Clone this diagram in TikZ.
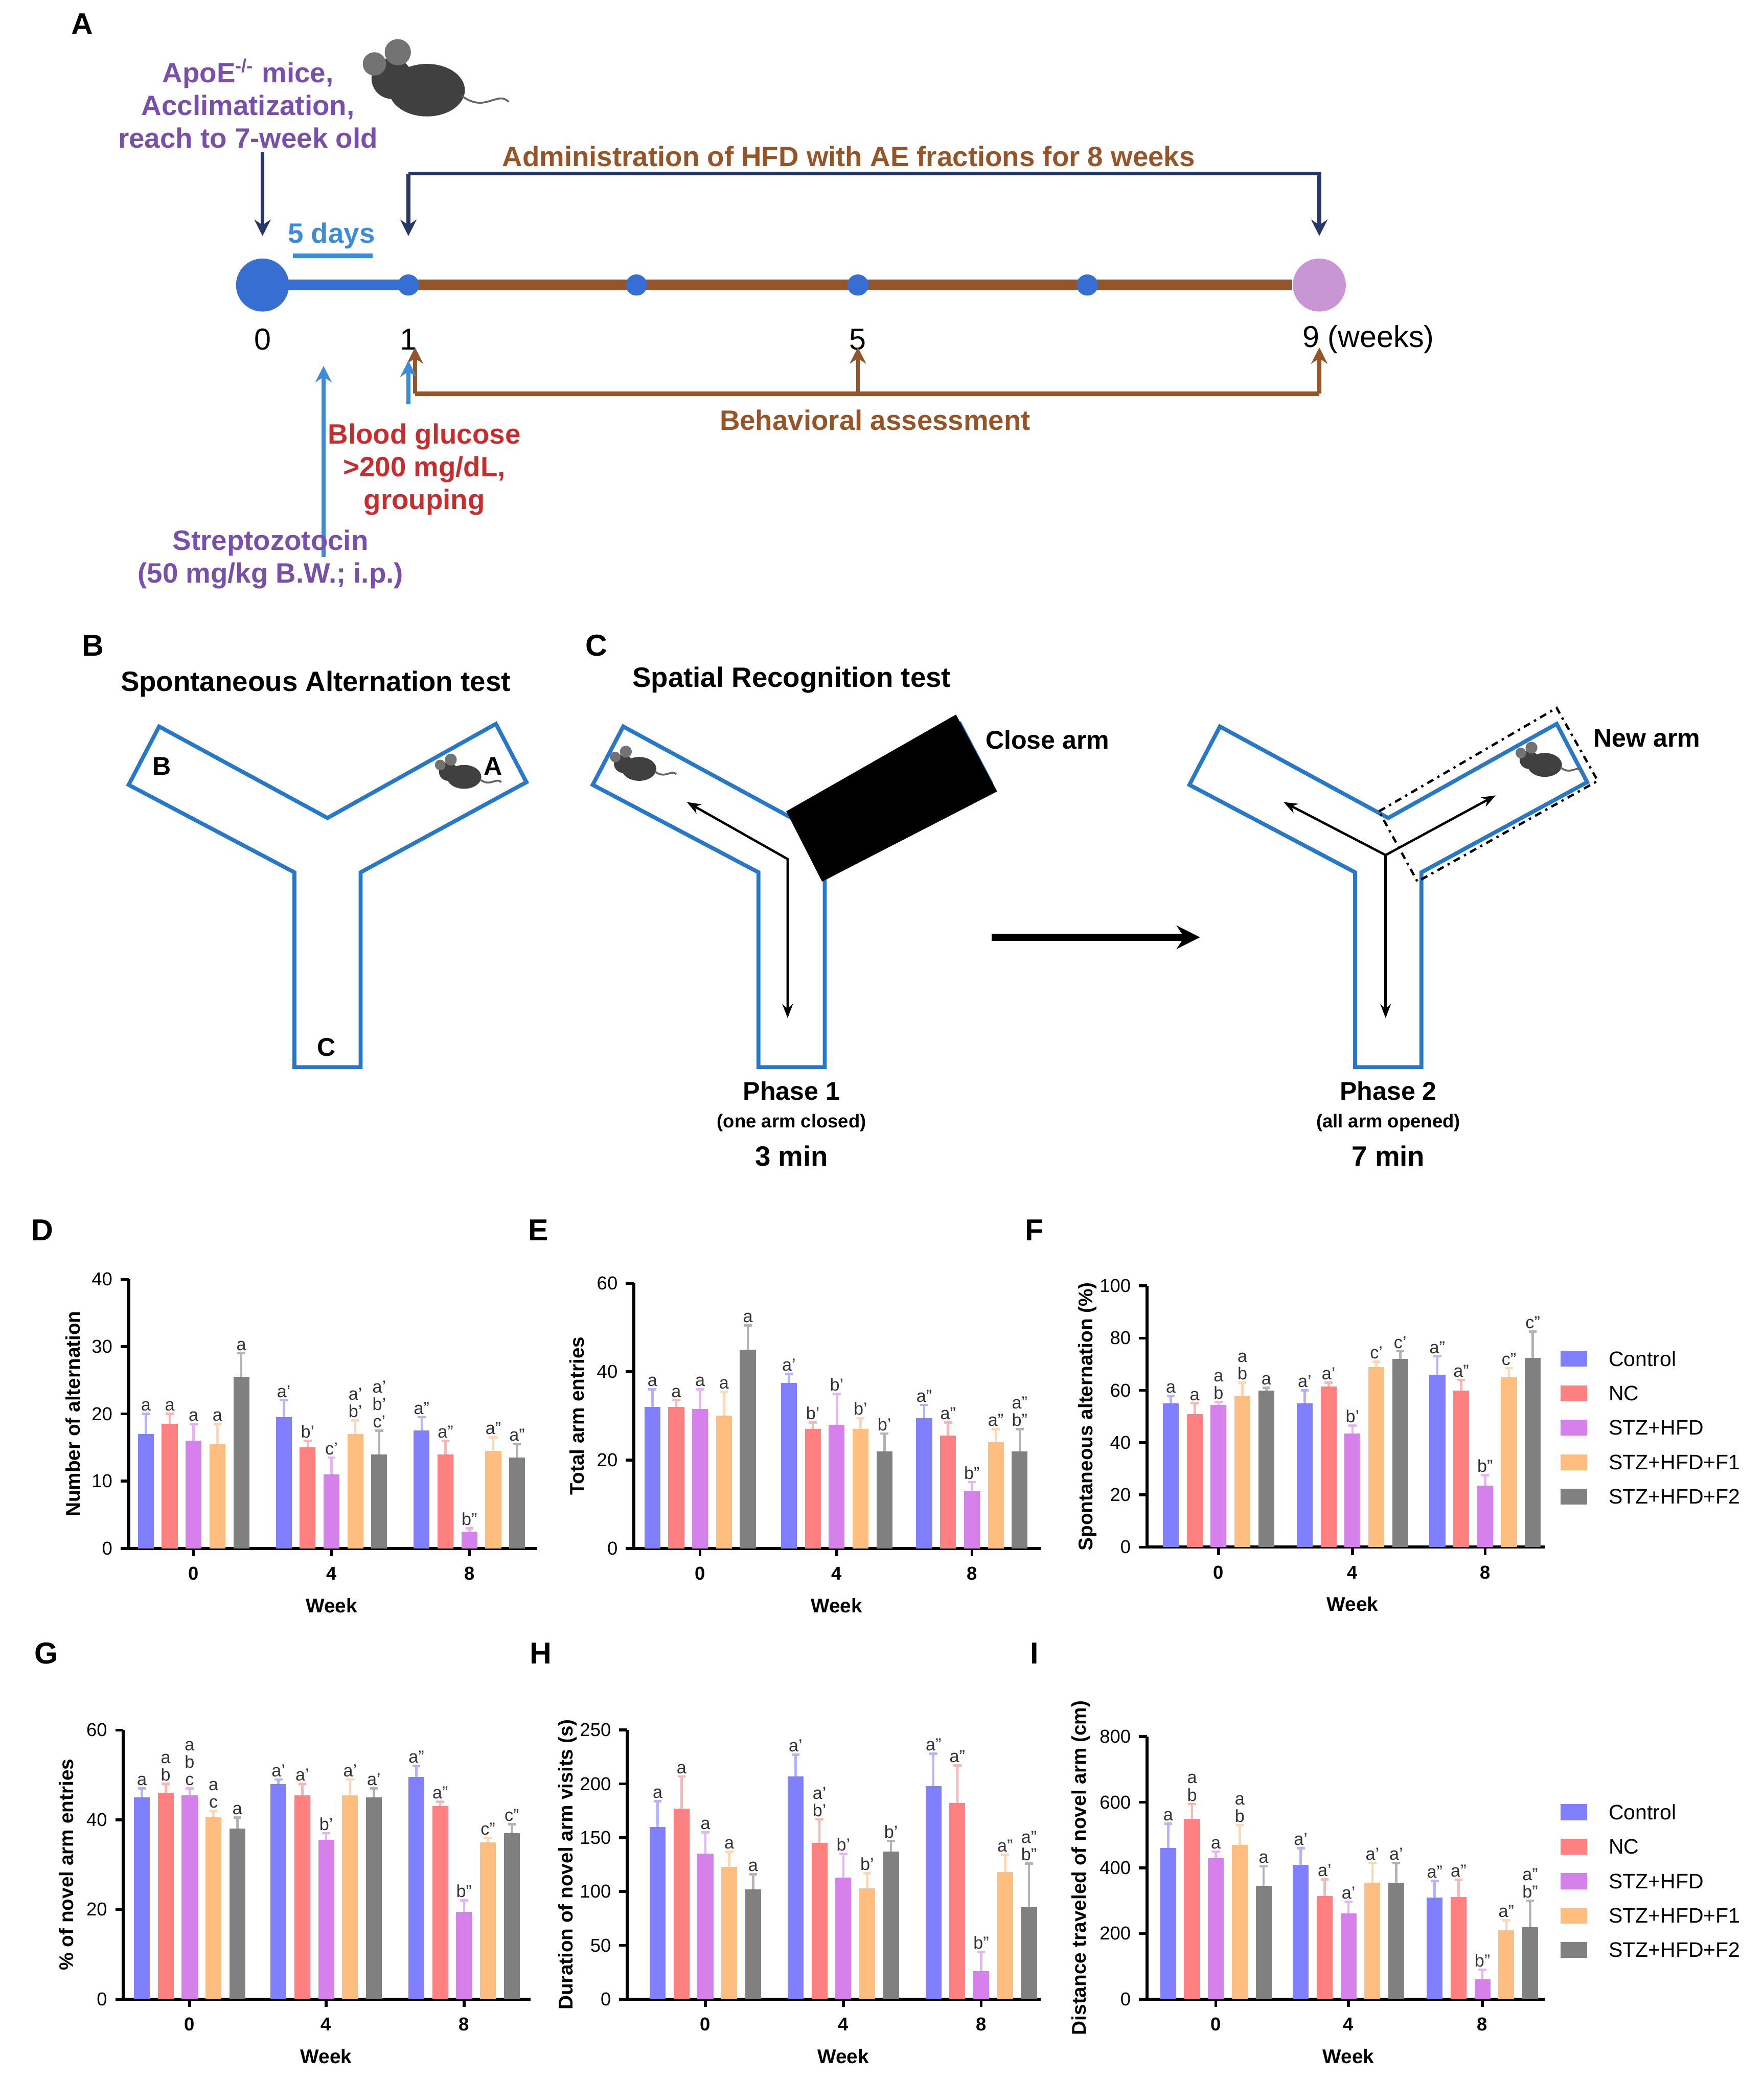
\documentclass[tikz,border=0pt]{standalone}
\usepackage{fontspec}
\setmainfont{Liberation Sans}
\usetikzlibrary{arrows.meta}
\definecolor{c1}{RGB}{128,128,255}
\definecolor{c2}{RGB}{255,128,128}
\definecolor{c3}{RGB}{214,128,236}
\definecolor{c4}{RGB}{255,190,128}
\definecolor{c5}{RGB}{128,128,128}
\definecolor{navy}{RGB}{40,55,100}
\definecolor{brn}{RGB}{150,85,40}
\definecolor{tblue}{RGB}{55,110,210}
\definecolor{lblue}{RGB}{60,140,215}
\definecolor{purp}{RGB}{120,80,170}
\definecolor{rd}{RGB}{200,45,45}
\definecolor{maze}{RGB}{40,120,200}
\definecolor{pink}{RGB}{200,150,210}
\tikzset{
  lab/.style={font=\fontsize{7.5}{7.5}\selectfont, text=black!80, align=center, inner sep=1pt},
  tick/.style={font=\fontsize{8}{8}\selectfont},
  axl/.style={font=\bfseries\fontsize{8.5}{8.5}\selectfont},
  atxt/.style={font=\bfseries\fontsize{12}{14}\selectfont, align=center},
  ptitle/.style={font=\bfseries\fontsize{12}{12}\selectfont},
  mtxt/.style={font=\bfseries\fontsize{11}{11}\selectfont},
  mz/.style={draw=maze, line width=1.7pt, line join=miter},
  arr/.style={line width=1.6pt, -{Stealth[length=7pt,width=7pt]}},
  mouse/.pic={
    \fill[black!75] (0,0) ellipse (13 and 9);
    \fill[black!75] (-12,-4) circle (7);
    \fill[black!55] (-10,-13) circle (4.5);
    \fill[black!55] (-18,-9) circle (4);
    \draw[black!60, line width=0.8pt] (12,2) .. controls (20,8) and (24,0) .. (28,4);
  }
}
\newcommand\onebar[5]{%
  \pgfmathsetmacro\bx{#1+(#2-3)*18}%
  \pgfmathsetmacro\bt{\cy-(#3)*\cs}%
  \pgfmathsetmacro\et{\cy-(#3+#4)*\cs}%
  \fill[c#2] (\bx-6,\cy) rectangle (\bx+6,\bt);
  \draw[c#2!60, line width=1pt] (\bx,\bt)--(\bx,\et) (\bx-3,\et)--(\bx+3,\et);
  \node[lab, anchor=south] at (\bx,\et) {#5};
}
\newcommand\axes[8]{%
  \draw[line width=1.4pt] (#1,\cy-\ymx*\cs)--(#1,\cy)--(#2,\cy);
  \foreach \t in {#3}{\draw[line width=1.2pt] (#1-6,\cy-\t*\cs)--(#1,\cy-\t*\cs);
     \node[tick, anchor=east] at (#1-6,\cy-\t*\cs) {\t};}
  \foreach \g/\w in {#6/0,#7/4,#8/8}{\draw[line width=1.2pt] (\g,\cy)--(\g,\cy+6);
     \node[tick, font=\bfseries\fontsize{8}{8}\selectfont] at (\g,\cy+19) {\w};}
  \node[axl] at (#7,\cy+43) {Week};
  \node[axl, rotate=90] at (#5,\cy-\ymx*\cs/2) {#4};
}
\newcommand\legend[2]{%
  \foreach \k/\n [count=\i] in {1/Control,2/NC,3/STZ+HFD,4/STZ+HFD+F1,5/STZ+HFD+F2}{
    \fill[c\k] (#1,#2+26*\i-26-6) rectangle (#1+20,#2+26*\i-26+6);
    \node[font=\fontsize{9}{9}\selectfont, anchor=west] at (#1+30,#2+26*\i-26) {\n};}
}
\begin{document}
\begin{tikzpicture}[x=0.02cm,y=-0.02cm]
\useasboundingbox (0,0) rectangle (1330,1569);
% ---------------- Panel A
\node[font=\bfseries\fontsize{13}{13}\selectfont] (pA) at (62,18) {A};
\node[atxt, text=purp] (apo) at (187,78) {ApoE\textsuperscript{-/-} mice,\\Acclimatization,\\reach to 7-week old};
\pic[scale=2.2] at (322,68) {mouse};
\coordinate (a0t) at (198,115);
\node[circle, fill=tblue, minimum size=40*0.02cm, inner sep=0] (t0) at (198,215) {};
\node[circle, fill=pink, minimum size=40*0.02cm, inner sep=0] (t9) at (995,215) {};
\coordinate (t1) at (308,215);
\draw[tblue, line width=4.5pt] (t0.center)--(t1);
\draw[brn, line width=4.5pt] (t1)--(t9.west);
\foreach \x/\n in {308/d1,480/d2,647/d3,820/d4}
  \node[circle, fill=tblue, minimum size=16*0.02cm, inner sep=0] (\n) at (\x,215) {};
\draw[arr, navy] (a0t) -- (198,178);
\node[font=\bfseries\fontsize{12}{12}\selectfont, text=lblue] (fd) at (250,178) {5 days};
\draw[lblue, line width=2pt] (221,193)--(281,193);
\node[font=\fontsize{13}{13}\selectfont] at (198,256) {0};
\node[font=\fontsize{13}{13}\selectfont] at (308,256) {1};
\node[font=\fontsize{13}{13}\selectfont] at (647,256) {5};
\node[font=\fontsize{13}{13}\selectfont] at (1032,256) {9 (weeks)};
\draw[navy, line width=1.6pt, -{Stealth[length=7pt,width=7pt]}] (308,131)--(308,178);
\draw[navy, line width=1.6pt, -{Stealth[length=7pt,width=7pt]}] (308,131)--(995,131)--(995,178);
\node[atxt, text=brn] at (640,118) {Administration of HFD with AE fractions for 8 weeks};
\draw[brn, line width=1.8pt] (313,297)--(995,297);
\foreach \x in {313,647,995} \draw[brn, arr] (\x,297)--(\x,262);
\node[atxt, text=brn] at (660,317) {Behavioral assessment};
\draw[arr, lblue] (244,420)--(244,276);
\draw[arr, lblue] (308,305)--(308,272);
\node[atxt, text=rd] at (320,354) {Blood glucose\\>200 mg/dL,\\grouping};
\node[atxt, text=purp] at (204,422) {Streptozotocin\\(50 mg/kg B.W.; i.p.)};
% ---------------- Panel B
\node[font=\bfseries\fontsize{13}{13}\selectfont] at (70,487) {B};
\node[ptitle] at (238,516) {Spontaneous Alternation test};
\draw[mz] (120,548)--(247,617)--(374,546)--(397,590)--(272,658)--(272,805)--(222,805)--(222,658)--(97,592)--cycle;
\node[mtxt] at (122,578) {B};
\node[mtxt] at (372,578) {A};
\node[mtxt] at (246,790) {C};
\pic at (350,586) {mouse};
% ---------------- Panel C
\node[font=\bfseries\fontsize{13}{13}\selectfont] at (450,487) {C};
\node[ptitle] at (597,513) {Spatial Recognition test};
\draw[mz] (470,548)--(597,617)--(724,546)--(747,590)--(622,658)--(622,805)--(572,805)--(572,658)--(447,592)--cycle;
\fill[black] (593,612)--(721,539)--(752,597)--(620,665)--cycle;
\node[mtxt] at (790,558) {Close arm};
\pic at (482,580) {mouse};
\draw[line width=1pt, {Stealth[length=6pt]}-{Stealth[length=6pt]}] (518,605)--(594,648)--(594,768);
\node[mtxt] at (597,823) {Phase 1};
\node[font=\bfseries\fontsize{8}{8}\selectfont] at (597,847) {(one arm closed)};
\node[mtxt, font=\bfseries\fontsize{12}{12}\selectfont] at (597,872) {3 min};
\draw[line width=3pt, -{Stealth[length=10pt,width=10pt]}] (748,707)--(905,707);
\draw[mz] (920,548)--(1047,617)--(1174,546)--(1197,590)--(1072,658)--(1072,805)--(1022,805)--(1022,658)--(897,592)--cycle;
\draw[line width=1pt, dash dot] (1040,612)--(1174,534)--(1205,589)--(1069,665)--cycle;
\pic at (1165,577) {mouse};
\node[mtxt] at (1242,557) {New arm};
\coordinate (cc) at (1045,645);
\draw[line width=1pt, -{Stealth[length=6pt]}] (cc)--(968,605);
\draw[line width=1pt, -{Stealth[length=6pt]}] (cc)--(1128,600);
\draw[line width=1pt, -{Stealth[length=6pt]}] (cc)--(1045,768);
\node[mtxt] at (1047,823) {Phase 2};
\node[font=\bfseries\fontsize{8}{8}\selectfont] at (1047,847) {(all arm opened)};
\node[mtxt, font=\bfseries\fontsize{12}{12}\selectfont] at (1047,872) {7 min};
% ---------------- Charts
\foreach \L/\x/\y in {D/32/928,E/406/928,F/780/928,G/35/1247,H/408/1247,I/780/1247}
  \node[font=\bfseries\fontsize{13}{13}\selectfont] at (\x,\y) {\L};
% D
\def\cy{1168}\def\cs{5.075}\def\ymx{40}
\axes{97}{405}{0,10,20,30,40}{Number of alternation}{55}{146}{250}{354}
\foreach \g/\k/\v/\e/\l in {146/1/17/3/a,146/2/18.5/1.5/a,146/3/16/2.5/a,146/4/15.5/3/a,146/5/25.5/3.5/a,
 250/1/19.5/2.5/a',250/2/15/1/b',250/3/11/2.5/c',250/4/17/2/{a'\\b'},250/5/14/3.5/{a'\\b'\\c'},
 354/1/17.5/2/a'',354/2/14/2/a'',354/3/2.5/0.5/b'',354/4/14.5/2/a'',354/5/13.5/2/a''}
 {\onebar{\g}{\k}{\v}{\e}{\l}}
% E
\def\cy{1168}\def\cs{3.333}\def\ymx{60}
\axes{478}{785}{0,20,40,60}{Total arm entries}{435}{528}{631}{733}
\foreach \g/\k/\v/\e/\l in {528/1/32/4/a,528/2/32/1.5/a,528/3/31.5/4.5/a,528/4/30/5.5/a,528/5/45/5.5/a,
 631/1/37.5/2/a',631/2/27/1.5/b',631/3/28/7/b',631/4/27/2.5/b',631/5/22/4/b',
 733/1/29.5/3/a'',733/2/25.5/3/a'',733/3/13/2/b'',733/4/24/3/a'',733/5/22/5/{a''\\b''}}
 {\onebar{\g}{\k}{\v}{\e}{\l}}
% F
\def\cy{1167}\def\cs{1.97}\def\ymx{100}
\axes{865}{1165}{0,20,40,60,80,100}{Spontaneous alternation (\%)}{820}{919}{1020}{1120}
\foreach \g/\k/\v/\e/\l in {919/1/55/3/a,919/2/51/4/a,919/3/54.5/1/{a\\b},919/4/58/5/{a\\b},919/5/60/1/a,
 1020/1/55/5/a',1020/2/61.5/1.5/a',1020/3/43.5/3/b',1020/4/69/2/c',1020/5/72/3/c',
 1120/1/66/7/a'',1120/2/60/4/a'',1120/3/23.5/4/b'',1120/4/65/3.5/c'',1120/5/72.5/10/c''}
 {\onebar{\g}{\k}{\v}{\e}{\l}}
\legend{1177}{1025}
% G
\def\cy{1508}\def\cs{3.383}\def\ymx{60}
\axes{93}{400}{0,20,40,60}{\% of novel arm entries}{50}{143}{246}{350}
\foreach \g/\k/\v/\e/\l in {143/1/45/2/a,143/2/46/2/{a\\b},143/3/45.5/1.5/{a\\b\\c},143/4/40.5/1.5/{a\\c},143/5/38/2.5/a,
 246/1/48/1/a',246/2/45.5/2.5/a',246/3/35.5/1.5/b',246/4/45.5/3.5/a',246/5/45/2/a',
 350/1/49.5/2.5/a'',350/2/43/1/a'',350/3/19.5/2.5/b'',350/4/35/1/c'',350/5/37/2/c''}
 {\onebar{\g}{\k}{\v}{\e}{\l}}
% H
\def\cy{1508}\def\cs{0.812}\def\ymx{250}
\axes{473}{785}{0,50,100,150,200,250}{Duration of novel arm visits (s)}{428}{532}{636}{740}
\foreach \g/\k/\v/\e/\l in {532/1/160/24/a,532/2/177/30/a,532/3/135/20/a,532/4/123/14/a,532/5/102/14/a,
 636/1/207/20/a',636/2/145/22/{a'\\b'},636/3/113/22/b',636/4/103/14/b',636/5/137/10/b',
 740/1/198/30/a'',740/2/182/35/a'',740/3/26/18/b'',740/4/118/16/a'',740/5/86/40/{a''\\b''}}
 {\onebar{\g}{\k}{\v}{\e}{\l}}
% I
\def\cy{1508}\def\cs{0.2475}\def\ymx{800}
\axes{865}{1165}{0,200,400,600,800}{Distance traveled of novel arm (cm)}{815}{917}{1017}{1118}
\foreach \g/\k/\v/\e/\l in {917/1/460/75/a,917/2/550/45/{a\\b},917/3/430/20/a,917/4/470/60/{a\\b},917/5/345/60/a,
 1017/1/410/50/a',1017/2/315/50/a',1017/3/262/35/a',1017/4/355/60/a',1017/5/355/60/a',
 1118/1/310/50/a'',1118/2/312/52/a'',1118/3/60/30/b'',1118/4/210/30/a'',1118/5/220/80/{a''\\b''}}
 {\onebar{\g}{\k}{\v}{\e}{\l}}
\legend{1177}{1367}
\end{tikzpicture}
\end{document}
